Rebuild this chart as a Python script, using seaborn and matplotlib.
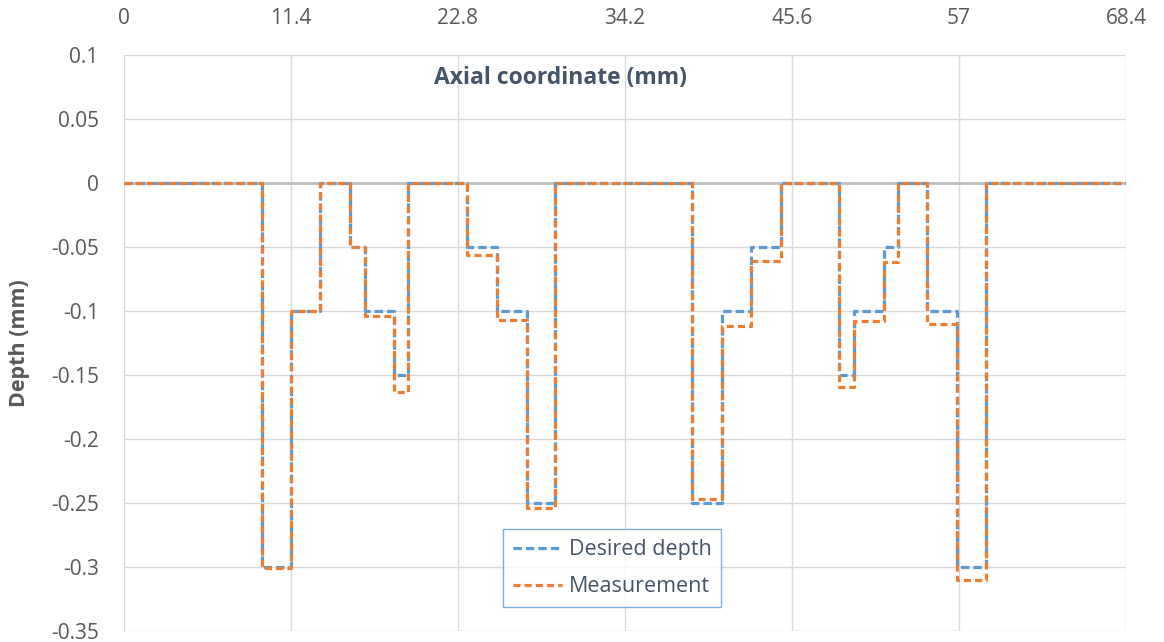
import matplotlib
matplotlib.use("Agg")
import matplotlib.pyplot as plt
import seaborn as sns
import numpy as np
import pandas as pd

# Segment start positions along axial coordinate (mm); last value is the end of the profile
edges = [0, 9.47, 11.44, 13.43, 15.42, 16.44, 18.45, 19.42, 23.45, 25.46, 27.5, 29.42,
         38.8, 40.84, 42.83, 44.86, 48.82, 49.84, 51.87, 52.82, 54.81, 56.85, 58.82, 68.4]
desired = [0, -0.3, -0.1, 0, -0.05, -0.1, -0.15, 0, -0.05, -0.1, -0.25, 0,
           -0.25, -0.1, -0.05, 0, -0.15, -0.1, -0.05, 0, -0.1, -0.3, 0]
measured = [0, -0.301, -0.1, 0, -0.05, -0.104, -0.163, 0, -0.056, -0.107, -0.254, 0,
            -0.247, -0.112, -0.061, 0, -0.159, -0.108, -0.062, 0, -0.11, -0.31, 0]
x_ticks = [0, 11.4, 22.8, 34.2, 45.6, 57, 68.4]
x_tick_labels = ["0", "11.4", "22.8", "34.2", "45.6", "57", "68.4"]
y_ticks = [0.1, 0.05, 0, -0.05, -0.1, -0.15, -0.2, -0.25, -0.3, -0.35]
y_tick_labels = ["0.1", "0.05", "0", "-0.05", "-0.1", "-0.15", "-0.2", "-0.25", "-0.3", "-0.35"]

sns.set_style("white")
plt.rcParams['font.family'] = ['Open Sans', 'DejaVu Sans']

df = pd.DataFrame({
    "x": list(edges) * 2,
    "depth": list(desired) + [desired[-1]] + list(measured) + [measured[-1]],
    "series": ["Desired depth"] * len(edges) + ["Measurement"] * len(edges),
})

fig = plt.figure(figsize=(11.64, 6.42), dpi=100)
ax = fig.add_axes([123.7 / 1164, 1 - 631 / 642, (1126 - 123.7) / 1164, (631 - 55) / 642])

grid_c = "#D9D9D9"
for xv in x_ticks:
    ax.axvline(xv, color=grid_c, lw=1.0, zorder=0)
for yv in y_ticks:
    ax.axhline(yv, color=grid_c, lw=1.0, zorder=0)
ax.axhline(0, color="#BFBFBF", lw=2.0, zorder=1)

palette = {"Desired depth": "#5B9BD5", "Measurement": "#ED7D31"}
dash_map = {"Desired depth": (2.6, 1.3), "Measurement": (2.2, 1.3)}
for name in ["Desired depth", "Measurement"]:
    sub = df[df["series"] == name]
    sns.lineplot(data=sub, x="x", y="depth", ax=ax, color=palette[name], lw=2.3,
                 drawstyle="steps-post", label=name, sort=False, estimator=None, zorder=3)
for line, name in zip(ax.get_lines()[-2:], ["Desired depth", "Measurement"]):
    line.set_dashes(dash_map[name])

ax.set_xlim(0, 68.4)
ax.set_ylim(-0.35, 0.1)
ax.xaxis.tick_top()
ax.set_xticks(x_ticks)
ax.set_xticklabels(x_tick_labels)
ax.set_yticks(y_ticks)
ax.set_yticklabels(y_tick_labels)
ax.tick_params(axis="x", length=0, pad=19, labelsize=15, labelcolor="#595959")
ax.tick_params(axis="y", length=0, pad=18, labelsize=15, labelcolor="#595959")
ax.set_xlabel("")
ax.set_ylabel("Depth (mm)", fontsize=15.5, fontweight="bold", color="#595959")
ax.yaxis.set_label_coords(-0.093, 0.5)
for s in ["top", "right", "bottom"]:
    ax.spines[s].set_visible(False)
ax.spines["left"].set_color("#D9D9D9")

ax.text((560 - 123.7) / (1126 - 123.7), 1 - (78 - 55) / 576, "Axial coordinate (mm)",
        transform=ax.transAxes, ha="center", va="center",
        fontsize=16.5, fontweight="bold", color="#44546A")

leg = ax.legend(loc="lower left", bbox_to_anchor=((503 - 123.7) / (1126 - 123.7), (631 - 607) / 576),
                frameon=True, fancybox=False, fontsize=15.5, handlelength=2.3, handletextpad=0.3,
                borderpad=0.45, labelspacing=0.75, borderaxespad=0)
leg.get_frame().set_edgecolor("#5B9BD5")
leg.get_frame().set_linewidth(1.0)
for h, name in zip(leg.get_lines(), ["Desired depth", "Measurement"]):
    h.set_dashes(dash_map[name])
for t in leg.get_texts():
    t.set_color("#44546A")

fig.savefig("out.png", dpi=100)
